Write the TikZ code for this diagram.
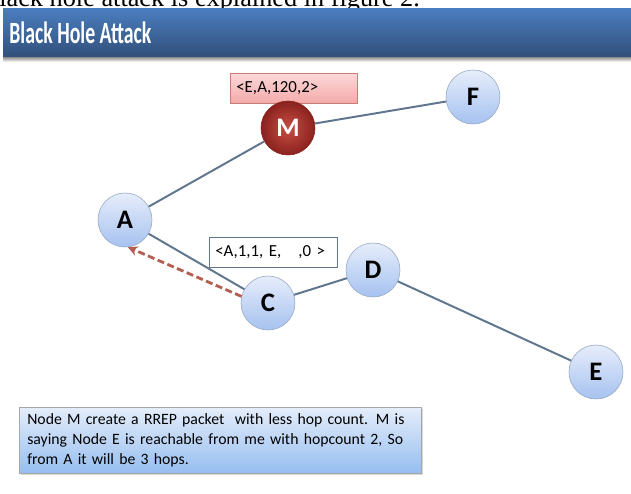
\documentclass[tikz,border=0pt]{standalone}
\usepackage{fontspec}
\setmainfont{Carlito}
\newfontfamily\pageserif{Liberation Serif}
\usetikzlibrary{arrows.meta}
\usetikzlibrary{shadows}
\definecolor{bartop}{RGB}{74,126,192}
\definecolor{barbot}{RGB}{50,80,122}
\definecolor{linkgray}{RGB}{96,118,142}
\definecolor{balltop}{RGB}{230,237,250}
\definecolor{ballbot}{RGB}{166,194,240}
\definecolor{ballrim}{RGB}{150,168,196}
\definecolor{mdark}{RGB}{138,34,30}
\definecolor{mlight}{RGB}{200,78,66}
\definecolor{rrep}{RGB}{180,94,82}
\definecolor{pinktop}{RGB}{252,216,216}
\definecolor{pinkbot}{RGB}{244,170,170}
\definecolor{notetop}{RGB}{228,237,250}
\definecolor{notebot}{RGB}{150,190,240}
\tikzset{ball/.style = {circle, draw=ballrim, top color=balltop, bottom color=ballbot,
                        minimum size=1.35cm, inner sep=0, font=\fontsize{19}{19}\selectfont\bfseries}}
\tikzset{evil/.style = {ball, draw=mdark, inner color=mlight, outer color=mdark, text=white}}
\tikzset{link/.style = {linkgray, line width=1.4pt}}
\tikzset{tag/.style = {anchor=north west, align=left, inner xsep=0.15cm, inner ysep=0,
                       minimum height=0.74cm, font=\fontsize{12}{12}\selectfont}}
\tikzset{rrepline/.style = {rrep, line width=2pt, dash pattern=on 5pt off 2.5pt,
                            -{Stealth[length=7pt, width=7pt]}}}

\begin{document}
\begin{tikzpicture}[x=0.025cm, y=-0.025cm]
  \useasboundingbox (0,0) rectangle (631,493);
  \fill[white] (0,0) rectangle (631,493);

  % line of the page above the slide
  \begin{scope}
    \clip (0,0) rectangle (631,8);
    \node[anchor=base west, inner sep=0] (pageline) at (-1,6)
      {\pageserif\fontsize{18.7}{20}\selectfont lack hole attack is explained in figure 2.};
  \end{scope}

  % title bar
  \fill[top color=bartop, bottom color=barbot] (3,8) rectangle (631,57);
  \fill[top color=black!45, bottom color=white] (3,57) rectangle (631,62);
  \node[anchor=west, text=white, inner sep=0] (title) at (9,33)
    {\fontsize{22}{22}\selectfont\bfseries\scalebox{0.64}[1]{Black Hole Attack}};

  % packet labels
  \node[tag, draw=rrep!80, top color=pinktop, bottom color=pinkbot,
        text width=2.875cm] (fakerrep) at (230,73) {<E,A,120,2>};
  \node[tag, draw=linkgray, fill=white, text width=2.9cm] (rreq) at (209,237)
    {<A,1,1, E, \ \ ,0 >};

  % nodes
  \node[ball] (a) at (125,220) {A};
  \node[evil] (m) at (288,128) {M};
  \node[ball] (f) at (473,97) {F};
  \node[ball] (c) at (268,303) {C};
  \node[ball] (d) at (373,270) {D};
  \node[ball] (e) at (596,372) {E};

  \foreach \u/\v in {a/m, m/f, a/c, c/d, d/e}
    \draw[link] (\u) -- (\v);

  \draw[rrepline] (c.166) -- (a.276);

  % explanation
  \node[anchor=north west, draw=black!35, top color=notetop, bottom color=notebot,
        drop shadow={opacity=0.3, shadow xshift=1pt, shadow yshift=-1.5pt},
        minimum width=10.05cm, minimum height=1.65cm, inner xsep=0.2cm,
        text width=9.65cm, align=left, font=\fontsize{11.2}{14.2}\selectfont,
        text=black] (note) at (19,407)
    {Node M create a RREP packet~ with less hop count. M is\\
     saying Node E is reachable from me with hopcount 2, So\\
     from A it will be 3 hops.};
\end{tikzpicture}
\end{document}
